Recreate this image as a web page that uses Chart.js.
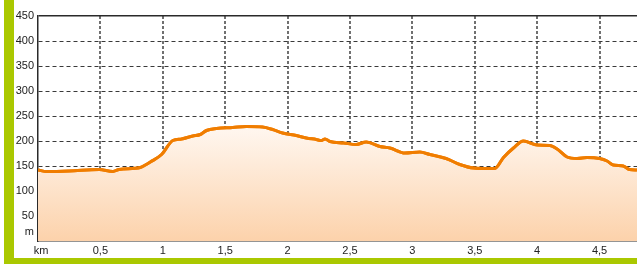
<!DOCTYPE html>
<html>
<head>
<meta charset="utf-8">
<script src="https://cdn.jsdelivr.net/npm/chart.js@4/dist/chart.umd.min.js"></script>
<style>
  html, body { margin: 0; padding: 0; background: #ffffff; width: 637px; height: 264px; overflow: hidden; }
  #wrap { position: relative; width: 637px; height: 264px; }
  #gl { position: absolute; left: 4px; top: 0; width: 10px; height: 264px; background: #aac800; }
  #gb { position: absolute; left: 4px; top: 258px; width: 633px; height: 6px; background: #aac800; }
  canvas { position: absolute; left: 0; top: 0; }
</style>
</head>
<body>
<div id="wrap">
  <div id="gl"></div>
  <div id="gb"></div>
  <canvas id="c" width="637" height="264"></canvas>
</div>
<script>
// distance along the route (km)
const distances = [0,0.07,0.25,0.49,0.6,0.65,0.82,0.86,0.9,0.99,1.08,1.15,1.24,1.3,1.35,1.43,1.56,1.67,1.8,1.88,1.96,2.07,2.15,2.23,2.27,2.3,2.34,2.45,2.55,2.63,2.74,2.82,2.94,3.06,3.14,3.27,3.38,3.49,3.6,3.66,3.73,3.81,3.89,4.0,4.1,4.16,4.24,4.32,4.4,4.5,4.56,4.61,4.69,4.74,4.8];
// elevation (m)
const elevations = [142,139,140,143,139,143,147,152,158,173,201,204,210,213,221,225,227,229,228,223,216,211,206,203,201,204,199,196,193,198,189,186,176,178,173,165,153,146,145,145,167,186,200,192,191,184,168,165,167,165,160,152,150,143,142];
// axis labels
const xUnitLabel = 'km';
const yUnitLabel = 'm';

const points = distances.map((d, i) => ({ x: d, y: elevations[i] }));
const FONT = '"Liberation Sans Narrow", "Liberation Sans", Arial, sans-serif';

const redrawLine = {
  id: 'redrawLine',
  afterDraw(chart) {
    const meta = chart.getDatasetMeta(0);
    const a = chart.chartArea;
    const ctx = chart.ctx;
    ctx.save();
    ctx.beginPath();
    ctx.rect(a.left, a.top - 4, a.right - a.left, a.bottom - a.top + 4);
    ctx.clip();
    meta.dataset.draw(ctx, a);
    ctx.restore();
  }
};

new Chart(document.getElementById('c'), {
  type: 'line',
  data: {
    datasets: [{
      data: points,
      borderColor: '#f07d00',
      borderWidth: 3,
      pointRadius: 0,
      cubicInterpolationMode: 'monotone',
      fill: 'origin',
      backgroundColor: (c) => {
        const ch = c.chart;
        const area = ch.chartArea;
        if (!area) return 'rgba(0,0,0,0)';
        const g = ch.ctx.createLinearGradient(0, ch.scales.y.getPixelForValue(235), 0, area.bottom);
        g.addColorStop(0, '#fff8f2');
        g.addColorStop(1, '#fcd2ab');
        return g;
      }
    }]
  },
  options: {
    responsive: false,
    animation: false,
    layout: { padding: { top: 16, left: 0, right: 0, bottom: 0 } },
    plugins: { legend: { display: false }, tooltip: { enabled: false } },
    scales: {
      x: {
        type: 'linear',
        min: 0,
        max: 4.8,
        z: 1,
        afterFit: (s) => { s.height = 23; },
        grid: {
          drawTicks: false,
          color: (c) => (c.tick && c.tick.value === 0) ? 'rgba(0,0,0,0)' : '#707070',
          lineWidth: 2
        },
        border: { display: true, color: '#2a2a2a', width: 1.5, dash: [3, 2] },
        ticks: {
          stepSize: 0.5,
          includeBounds: false,
          padding: 3,
          color: '#222222',
          font: { family: FONT, size: 11 },
          maxRotation: 0,
          autoSkip: false,
          callback: (v) => v === 0 ? '\u00a0\u00a0' + xUnitLabel : String(v).replace('.', ',')
        }
      },
      y: {
        min: 0,
        max: 450,
        z: 1,
        afterFit: (s) => { s.width = 38; },
        grid: {
          drawTicks: false,
          color: (c) => {
            if (!c.tick) return '#3a3a3a';
            if (c.tick.value === 0) return 'rgba(0,0,0,0)';
            if (c.tick.value === 450) return '#2a2a2a';
            return '#3a3a3a';
          },
          lineWidth: (c) => (c.tick && c.tick.value === 450) ? 1.5 : 1
        },
        border: {
          display: true, color: '#2a2a2a', width: 1.5,
          dash: (c) => (c.tick && c.tick.value === 450) ? [] : [4, 3]
        },
        ticks: {
          stepSize: 50,
          autoSkip: false,
          padding: 4,
          color: '#222222',
          font: (c) => ({ family: FONT, size: 11, lineHeight: (c.tick && c.tick.value === 0) ? 1.6 : 1.2 }),
          callback: (v) => v === 0 ? [yUnitLabel, ''] : String(v)
        }
      }
    }
  },
  plugins: [redrawLine]
});
</script>
</body>
</html>
